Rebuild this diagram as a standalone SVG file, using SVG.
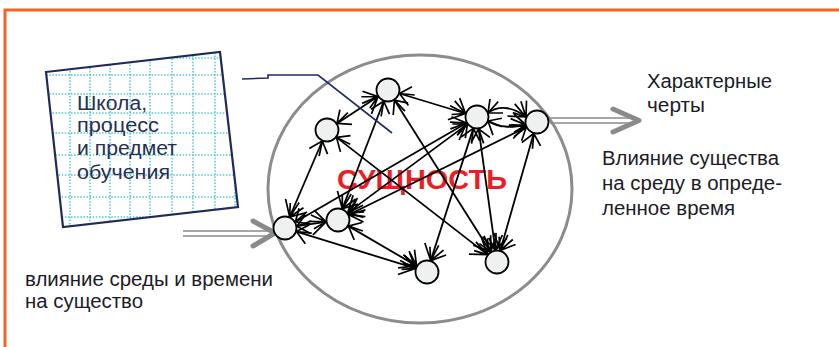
<svg xmlns="http://www.w3.org/2000/svg" width="839" height="347" viewBox="0 0 839 347">
<style>
.t{font-family:"Liberation Sans",Arial,sans-serif;font-size:20px;fill:#1c1c28}
.bt{font-family:"Liberation Sans",Arial,sans-serif;font-size:20px;fill:#263050}
.e{stroke:#000;stroke-width:1.8;fill:none;marker-end:url(#burst);marker-start:url(#burst0)}
.nd{fill:#eff0f0;stroke:#000;stroke-width:1.8}
.grid{stroke:#52c6d0;stroke-width:1.5;stroke-dasharray:1.5 1.6}
.garrow{stroke:#8a8a8a;fill:none}
</style>
<defs>
<marker id="burst" viewBox="-20 -14 22 28" refX="0" refY="0" markerWidth="22" markerHeight="28" markerUnits="userSpaceOnUse" orient="auto">
<path d="M0,0 L-14,-9 M0,0 L-17,-3 M0,0 L-13,5 M0,0 L-15,11 M0,0 L-10,-13" stroke="#000" stroke-width="1.7" fill="none"/>
</marker>
<marker id="burst0" viewBox="-20 -14 22 28" refX="0" refY="0" markerWidth="22" markerHeight="28" markerUnits="userSpaceOnUse" orient="auto-start-reverse">
<path d="M0,0 L-12,-9 M0,0 L-15,3 M0,0 L-10,10" stroke="#000" stroke-width="1.7" fill="none"/>
</marker>
<clipPath id="boxclip"><polygon points="46,72 220,52 238,207 63,227"/></clipPath>
</defs>
<rect x="5" y="10" width="900" height="400" fill="none" stroke="#f26522" stroke-width="3"/>

<g id="box">
<polygon points="46,72 220,52 238,207 63,227" fill="#fff"/>
<g clip-path="url(#boxclip)" class="grid">
<line x1="70" y1="40" x2="70" y2="240"/><line x1="90" y1="40" x2="90" y2="240"/><line x1="110" y1="40" x2="110" y2="240"/><line x1="130" y1="40" x2="130" y2="240"/><line x1="150" y1="40" x2="150" y2="240"/><line x1="172" y1="40" x2="172" y2="240"/><line x1="193" y1="40" x2="193" y2="240"/><line x1="215" y1="40" x2="215" y2="240"/><line x1="235" y1="40" x2="235" y2="240"/>
<line x1="40" y1="75" x2="245" y2="75"/><line x1="40" y1="94" x2="245" y2="94"/><line x1="40" y1="113" x2="245" y2="113"/><line x1="40" y1="133" x2="245" y2="133"/><line x1="40" y1="155" x2="245" y2="155"/><line x1="40" y1="175" x2="245" y2="175"/><line x1="40" y1="197" x2="245" y2="197"/><line x1="40" y1="217" x2="245" y2="217"/><line x1="40" y1="58" x2="245" y2="58"/>
</g>
<polygon points="46,72 220,52 238,207 63,227" fill="none" stroke="#1f2a5a" stroke-width="2.2"/>
<text class="bt" x="77" y="110" textLength="70" lengthAdjust="spacingAndGlyphs">Школа,</text>
<text class="bt" x="77" y="132" textLength="82" lengthAdjust="spacingAndGlyphs">процесс</text>
<text class="bt" x="77" y="155" textLength="100" lengthAdjust="spacingAndGlyphs">и предмет</text>
<text class="bt" x="77" y="179" textLength="93" lengthAdjust="spacingAndGlyphs">обучения</text>
</g>

<g id="essence">
<ellipse cx="420" cy="189" rx="152" ry="134" fill="none" stroke="#8c8c8c" stroke-width="3"/>
<text x="337" y="189" textLength="170" lengthAdjust="spacingAndGlyphs" style="font-family:'Liberation Sans',Arial,sans-serif;font-size:27px;font-weight:bold;fill:#ee1c25">СУЩНОСТЬ</text>
</g>

<g id="connectors">
<line class="e" x1="337" y1="123.4" x2="378" y2="96.6"/>
<line class="e" x1="322.3" y1="141" x2="289.7" y2="217"/>
<line class="e" x1="336.5" y1="137.4" x2="487.5" y2="254.6"/>
<line class="e" x1="399.5" y1="93.5" x2="465.5" y2="113.5"/>
<line class="e" x1="383.7" y1="101.2" x2="342.3" y2="208.8"/>
<line class="e" x1="394.4" y1="100.1" x2="490.6" y2="251.9"/>
<line class="e" x1="467.4" y1="124.1" x2="347.6" y2="212.9"/>
<line class="e" x1="473.3" y1="128.4" x2="430.7" y2="260.6"/>
<line class="e" x1="478.6" y1="128.9" x2="495.4" y2="250.1"/>
<line class="e" x1="533.7" y1="133.5" x2="500.3" y2="250.5"/>
<line class="e" x1="526.2" y1="127.3" x2="348.8" y2="214.7"/>
<line class="e" x1="296.9" y1="226.2" x2="326.1" y2="221.8"/>
<line class="e" x1="296.5" y1="231.6" x2="415.5" y2="268.4"/>
<line class="e" x1="348.4" y1="226.1" x2="416.6" y2="265.9"/>
<line class="e" x1="295.4" y1="222" x2="466.6" y2="123"/>
<path class="e" d="M488,113 C500,104 515,108 526,117"/>
<path class="e" d="M488,121 C500,129 515,127 526,125"/>
<path d="M242,79 L268,78 L268,75 L318,75 L392,133" fill="none" stroke="#1f2a6a" stroke-width="1.6"/>
<g class="garrow">
<line x1="183" y1="231" x2="268" y2="231" stroke-width="1.5"/>
<line x1="183" y1="236" x2="268" y2="236" stroke-width="1.5"/>
<polyline points="253,221 275,233 253,246" stroke-width="5" stroke-linecap="round" stroke-linejoin="round"/>
<line x1="550" y1="118" x2="636" y2="118" stroke-width="1.5"/>
<line x1="550" y1="123" x2="636" y2="123" stroke-width="1.5"/>
<polyline points="613,109 639,120.5 613,132" stroke-width="5" stroke-linecap="round" stroke-linejoin="round"/>
</g>
</g>

<g id="n1"><circle class="nd" cx="388" cy="90" r="11.5"/></g>
<g id="n2"><circle class="nd" cx="327" cy="130" r="11.5"/></g>
<g id="n3"><circle class="nd" cx="477" cy="117" r="11.5"/></g>
<g id="n4"><circle class="nd" cx="537" cy="122" r="11.5"/></g>
<g id="n5"><circle class="nd" cx="285" cy="228" r="11.5"/></g>
<g id="n6"><circle class="nd" cx="338" cy="220" r="11.5"/></g>
<g id="n7"><circle class="nd" cx="427" cy="272" r="11.5"/></g>
<g id="n8"><circle class="nd" cx="497" cy="262" r="11.5"/></g>

<g id="labels">
<text class="t" x="647" y="88" textLength="125" lengthAdjust="spacingAndGlyphs">Характерные</text>
<text class="t" x="647" y="112" textLength="58" lengthAdjust="spacingAndGlyphs">черты</text>
<text class="t" x="602" y="165" textLength="177" lengthAdjust="spacingAndGlyphs">Влияние существа</text>
<text class="t" x="602" y="190" textLength="180" lengthAdjust="spacingAndGlyphs">на среду в опреде-</text>
<text class="t" x="602" y="215" textLength="133" lengthAdjust="spacingAndGlyphs">ленное время</text>
<text class="t" x="25" y="286" textLength="248" lengthAdjust="spacingAndGlyphs">влияние среды и времени</text>
<text class="t" x="25" y="308" textLength="118" lengthAdjust="spacingAndGlyphs">на существо</text>
</g>
</svg>
